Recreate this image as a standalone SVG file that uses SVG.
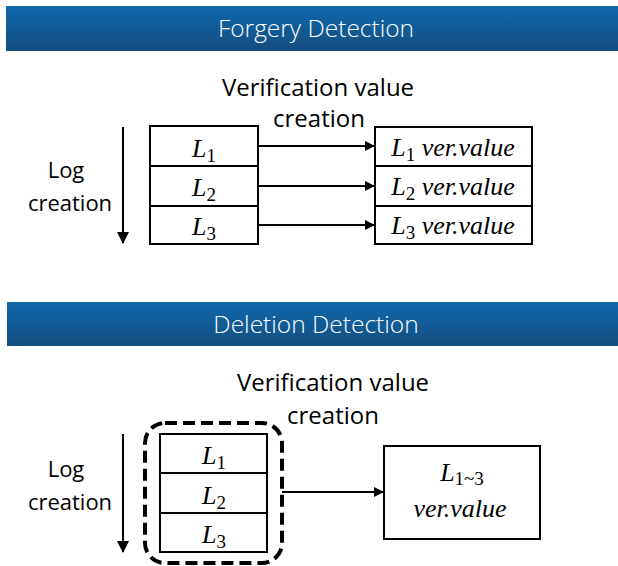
<svg xmlns="http://www.w3.org/2000/svg" width="618" height="566" viewBox="0 0 618 566">
<defs>
<linearGradient id="bg" x1="0" y1="0" x2="0" y2="1">
<stop offset="0" stop-color="#0f68ad"/>
<stop offset="1" stop-color="#134e7f"/>
</linearGradient>
<marker id="ah" markerWidth="10" markerHeight="10" refX="9" refY="5" orient="auto" markerUnits="userSpaceOnUse">
<path d="M0,0 L10,5 L0,10 Z" fill="#000"/>
</marker>
<marker id="ahv" markerWidth="12" markerHeight="12" refX="6" refY="11" orient="0" markerUnits="userSpaceOnUse">
<path d="M0,0 L12,0 L6,12 Z" fill="#000"/>
</marker>
</defs>
<style>
.banner{fill:url(#bg)}
.bt{font-family:"Open Sans","Noto Sans",sans-serif;font-weight:300;font-size:24.5px;fill:#fff;text-anchor:middle}
.lbl{font-family:"Open Sans","Noto Sans",sans-serif;font-size:24px;fill:#000;text-anchor:middle}
.lbs{font-family:"Open Sans","Noto Sans",sans-serif;font-size:22px;fill:#000;text-anchor:middle}
.box{fill:#fff;stroke:#000;stroke-width:2}
.m{font-family:"Liberation Serif","DejaVu Serif",serif;font-style:italic;font-size:26px;fill:#000;text-anchor:middle}
.sub{font-style:normal;font-size:19px}
.ln{stroke:#000;stroke-width:2;fill:none}
</style>
<rect width="618" height="566" fill="#fff"/>
<g id="banner1">
<rect class="banner" x="6" y="6" width="612" height="45"/>
<text class="bt" x="316" y="37">Forgery Detection</text>
</g>
<g id="banner2">
<rect class="banner" x="7" y="302" width="611" height="44"/>
<text class="bt" x="316" y="333">Deletion Detection</text>
</g>
<g id="top-labels">
<text class="lbl" x="318" y="96">Verification value</text>
<text class="lbl" x="319" y="127">creation</text>
<text class="lbs" x="66" y="178">Log</text>
<text class="lbs" x="70" y="211">creation</text>
</g>
<g id="top-logs">
<rect class="box" x="150" y="126" width="108" height="40"/>
<rect class="box" x="150" y="166" width="108" height="40"/>
<rect class="box" x="150" y="206" width="108" height="38"/>
<text class="m" x="204" y="157">L<tspan class="sub" dy="5">1</tspan></text>
<text class="m" x="204" y="196">L<tspan class="sub" dy="5">2</tspan></text>
<text class="m" x="204" y="235">L<tspan class="sub" dy="5">3</tspan></text>
</g>
<g id="top-values">
<rect class="box" x="375" y="127" width="157" height="39"/>
<rect class="box" x="375" y="166" width="157" height="40"/>
<rect class="box" x="375" y="206" width="157" height="38"/>
<text class="m" x="453" y="156">L<tspan class="sub" dy="5">1</tspan><tspan dy="-5"> ver.value</tspan></text>
<text class="m" x="453" y="195">L<tspan class="sub" dy="5">2</tspan><tspan dy="-5"> ver.value</tspan></text>
<text class="m" x="453" y="234">L<tspan class="sub" dy="5">3</tspan><tspan dy="-5"> ver.value</tspan></text>
</g>
<g id="bottom-labels">
<text class="lbl" x="333" y="391">Verification value</text>
<text class="lbl" x="333" y="424">creation</text>
<text class="lbs" x="66" y="477">Log</text>
<text class="lbs" x="70" y="510">creation</text>
</g>
<g id="bottom-group">
<rect x="145" y="423" width="137" height="140" rx="20" fill="none" stroke="#000" stroke-width="4" stroke-dasharray="12,6"/>
<rect class="box" x="160" y="434" width="107" height="39"/>
<rect class="box" x="160" y="473" width="107" height="40"/>
<rect class="box" x="160" y="513" width="107" height="39"/>
<text class="m" x="214" y="464">L<tspan class="sub" dy="5">1</tspan></text>
<text class="m" x="214" y="504">L<tspan class="sub" dy="5">2</tspan></text>
<text class="m" x="214" y="543">L<tspan class="sub" dy="5">3</tspan></text>
</g>
<g id="bottom-value">
<rect class="box" x="384" y="446" width="156" height="93"/>
<text class="m" x="462" y="481">L<tspan class="sub" dy="4">1~3</tspan></text>
<text class="m" x="460" y="517">ver.value</text>
</g>
<g id="connectors">
<line class="ln" x1="123" y1="127" x2="123" y2="243" marker-end="url(#ahv)"/>
<line class="ln" x1="258" y1="146" x2="374" y2="146" marker-end="url(#ah)"/>
<line class="ln" x1="258" y1="186" x2="374" y2="186" marker-end="url(#ah)"/>
<line class="ln" x1="258" y1="225" x2="374" y2="225" marker-end="url(#ah)"/>
<line class="ln" x1="123" y1="434" x2="123" y2="552" marker-end="url(#ahv)"/>
<line class="ln" x1="282" y1="492" x2="383" y2="492" marker-end="url(#ah)"/>
</g>
</svg>
